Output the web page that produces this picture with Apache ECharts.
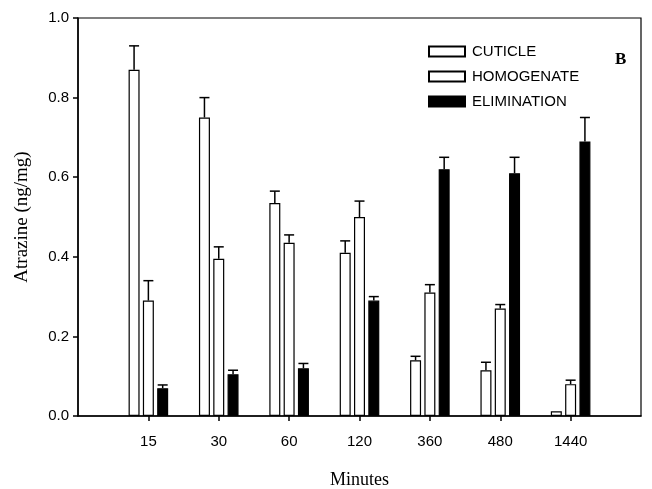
<!DOCTYPE html>
<html>
<head>
<meta charset="utf-8">
<script src="https://cdn.jsdelivr.net/npm/echarts@6/dist/echarts.min.js"></script>
<style>
  html, body { margin: 0; padding: 0; background: #fff; }
  #chart { width: 652px; height: 489px; }
</style>
</head>
<body>
<div id="chart"></div>
<script>
// sampling times (minutes)
const minutes = ['15', '30', '60', '120', '360', '480', '1440'];
const yTicks = [0.0, 0.2, 0.4, 0.6, 0.8, 1.0];

const cuticle = [0.87, 0.75, 0.535, 0.41, 0.14, 0.115, 0.012];
const cuticleErr = [0.06, 0.05, 0.03, 0.03, 0.01, 0.02, 0];
const homogenate = [0.29, 0.395, 0.435, 0.50, 0.31, 0.27, 0.08];
const homogenateErr = [0.05, 0.03, 0.02, 0.04, 0.02, 0.01, 0.01];
const elimination = [0.07, 0.105, 0.12, 0.29, 0.62, 0.61, 0.69];
const eliminationErr = [0.008, 0.01, 0.012, 0.01, 0.03, 0.04, 0.06];

// pad one empty slot each side so the ticks sit like the original
const cats = [''].concat(minutes, ['']);
const pad = arr => [null].concat(arr, [null]);

const BAR_W = 11;
const BAR_GAP = 3.3;

function errSeries(vals, errs, slot) {
  return {
    type: 'custom',
    silent: true,
    z: 5,
    data: vals.map((v, i) => [i + 1, v, errs[i]]),
    renderItem: function (params, api) {
      const idx = api.value(0);
      const v = api.value(1);
      const e = api.value(2);
      if (!e) return null;
      const p0 = api.coord([idx, v]);
      const p1 = api.coord([idx, v + e]);
      const x = p0[0] + slot * (BAR_W + BAR_GAP);
      const style = { stroke: '#000', lineWidth: 1.5 };
      return {
        type: 'group',
        children: [
          { type: 'line', shape: { x1: x, y1: p0[1], x2: x, y2: p1[1] }, style: style },
          { type: 'line', shape: { x1: x - 5, y1: p1[1], x2: x + 5, y2: p1[1] }, style: style }
        ]
      };
    }
  };
}

const chart = echarts.init(document.getElementById('chart'));
chart.setOption({
  animation: false,
  backgroundColor: '#fff',
  title: {
    text: 'B',
    left: 610,
    top: 46,
    textStyle: { fontFamily: 'Liberation Serif', fontWeight: 'bold', fontSize: 17, color: '#000' }
  },
  legend: {
    orient: 'vertical',
    left: 423,
    top: 39,
    icon: 'rect',
    itemWidth: 36,
    itemHeight: 10,
    itemGap: 10,
    textStyle: { fontFamily: 'Liberation Sans', fontSize: 15, color: '#000', padding: [0, 0, 0, 2] },
    data: ['CUTICLE', 'HOMOGENATE', 'ELIMINATION']
  },
  grid: {
    left: 78,
    right: 11,
    top: 18,
    bottom: 73,
    containLabel: false,
    outerBoundsMode: 'none',
    show: true,
    borderColor: '#000',
    borderWidth: 1.2
  },
  xAxis: {
    type: 'category',
    data: cats,
    boundaryGap: false,
    name: 'Minutes',
    nameLocation: 'middle',
    nameGap: 55,
    nameTextStyle: { fontFamily: 'Liberation Serif', fontSize: 18, color: '#000' },
    axisLine: { lineStyle: { color: '#000', width: 1.5 } },
    axisTick: {
      length: 5,
      lineStyle: { color: '#000', width: 1.5 },
      interval: function (i) { return i > 0 && i < cats.length - 1; }
    },
    axisLabel: {
      margin: 18,
      interval: 0,
      fontFamily: 'Liberation Sans',
      fontSize: 15,
      color: '#000'
    },
    splitLine: { show: false }
  },
  yAxis: {
    type: 'value',
    min: yTicks[0],
    max: yTicks[yTicks.length - 1],
    interval: 0.2,
    name: 'Atrazine (ng/mg)',
    nameLocation: 'middle',
    nameGap: 46,
    nameTextStyle: { fontFamily: 'Liberation Serif', fontSize: 19, color: '#000' },
    axisLine: { show: true, lineStyle: { color: '#000', width: 1.5 } },
    axisTick: { show: true, length: 5, lineStyle: { color: '#000', width: 1.5 } },
    axisLabel: {
      margin: 9,
      fontFamily: 'Liberation Sans',
      fontSize: 15,
      color: '#000',
      formatter: v => v.toFixed(1)
    },
    splitLine: { show: false }
  },
  series: [
    {
      name: 'CUTICLE', type: 'bar', data: pad(cuticle),
      barWidth: BAR_W, barGap: (BAR_GAP / BAR_W * 100) + '%',
      itemStyle: { color: '#fff', borderColor: '#000', borderWidth: 1.2 }
    },
    {
      name: 'HOMOGENATE', type: 'bar', data: pad(homogenate),
      barWidth: BAR_W,
      itemStyle: { color: '#fff', borderColor: '#000', borderWidth: 1.2 }
    },
    {
      name: 'ELIMINATION', type: 'bar', data: pad(elimination),
      barWidth: BAR_W,
      itemStyle: { color: '#000', borderColor: '#000', borderWidth: 1.2 }
    },
    errSeries(cuticle, cuticleErr, -1),
    errSeries(homogenate, homogenateErr, 0),
    errSeries(elimination, eliminationErr, 1)
  ]
});
</script>
</body>
</html>
